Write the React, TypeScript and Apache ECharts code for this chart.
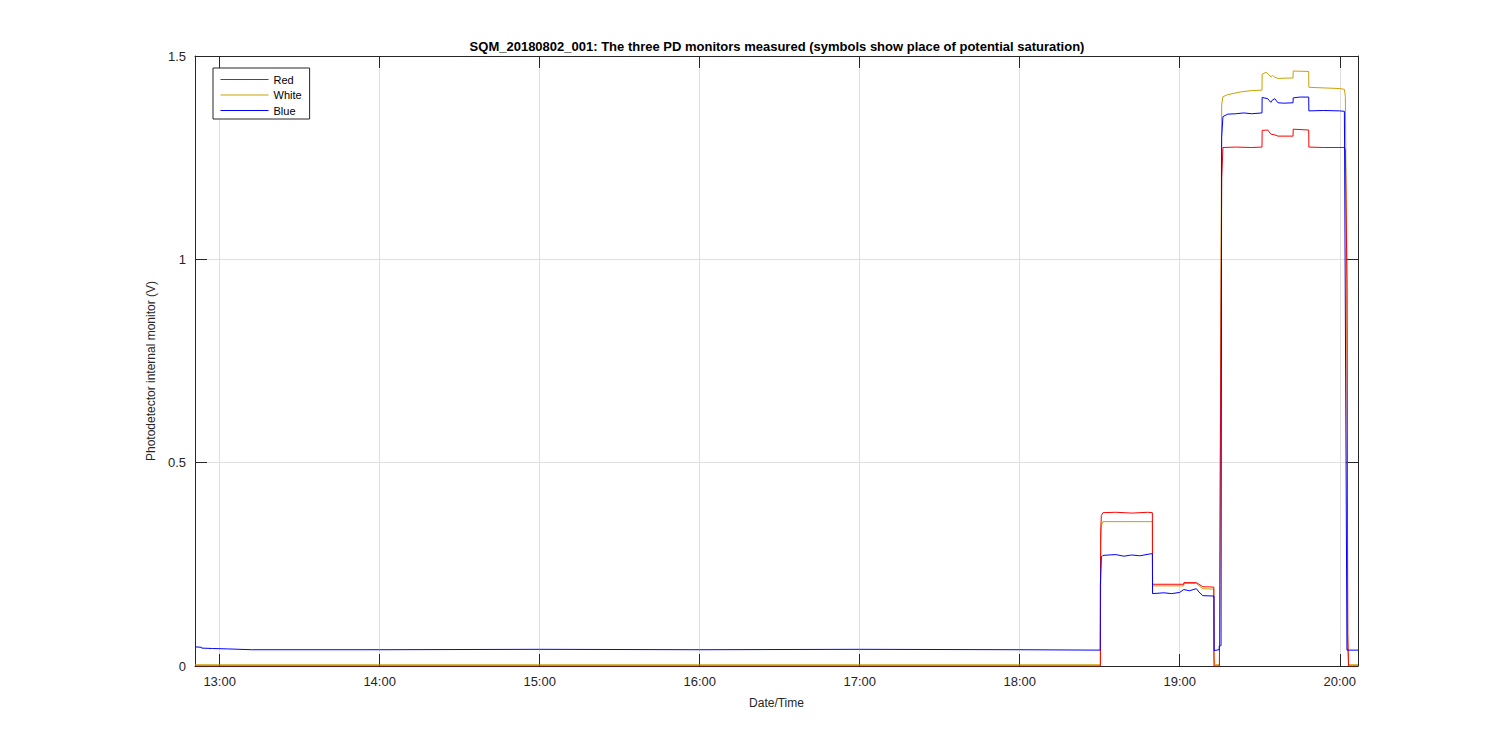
import React, { useEffect, useRef } from "react";
import * as echarts from "echarts";

// Time in decimal hours (local clock), values in volts
const redTime = [12.846, 18.504, 18.506, 18.51, 18.52, 18.6, 18.7, 18.8, 18.829, 18.83, 19.025, 19.026, 19.104, 19.144, 19.213, 19.214, 19.248, 19.25, 19.262, 19.27, 19.35, 19.45, 19.514, 19.515, 19.55, 19.569, 19.594, 19.614, 19.708, 19.709, 19.806, 19.807, 19.9, 20.029, 20.035, 20.045, 20.05, 20.055, 20.114];
const redValues = [0.0, 0.0, 0.33, 0.37, 0.377, 0.378, 0.376, 0.378, 0.377, 0.201, 0.201, 0.205, 0.205, 0.195, 0.194, 0.0, 0.0, 0.2, 1.2, 1.275, 1.276, 1.275, 1.276, 1.317, 1.318, 1.308, 1.306, 1.303, 1.303, 1.32, 1.318, 1.276, 1.275, 1.275, 1.27, 0.95, 0.08, 0.0, 0.0];

const whiteTime = [12.846, 18.504, 18.506, 18.51, 18.52, 18.829, 18.83, 19.025, 19.026, 19.104, 19.144, 19.213, 19.214, 19.22, 19.248, 19.25, 19.262, 19.27, 19.3, 19.386, 19.45, 19.514, 19.515, 19.54, 19.569, 19.58, 19.594, 19.614, 19.708, 19.709, 19.806, 19.807, 20.0, 20.029, 20.035, 20.045, 20.05, 20.055, 20.114];
const whiteValues = [0.003, 0.003, 0.3, 0.345, 0.355, 0.355, 0.197, 0.197, 0.203, 0.203, 0.19, 0.189, 0.02, 0.003, 0.003, 0.165, 1.38, 1.4, 1.405, 1.412, 1.415, 1.416, 1.455, 1.46, 1.449, 1.452, 1.448, 1.445, 1.446, 1.463, 1.462, 1.423, 1.42, 1.418, 1.4, 0.93, 0.05, 0.003, 0.003];

const blueTime = [12.846, 12.886, 12.887, 12.956, 13.05, 13.2, 14.0, 15.0, 16.0, 17.0, 18.0, 18.503, 18.504, 18.51, 18.52, 18.6, 18.65, 18.7, 18.75, 18.82, 18.829, 18.83, 18.9, 18.95, 19.0, 19.025, 19.06, 19.104, 19.12, 19.144, 19.214, 19.215, 19.246, 19.247, 19.258, 19.262, 19.27, 19.3, 19.35, 19.4, 19.45, 19.514, 19.515, 19.55, 19.569, 19.58, 19.594, 19.614, 19.65, 19.708, 19.709, 19.75, 19.806, 19.807, 19.9, 20.0, 20.029, 20.045, 20.114];
const blueValues = [0.047, 0.046, 0.044, 0.043, 0.042, 0.04, 0.04, 0.041, 0.04, 0.041, 0.04, 0.039, 0.2, 0.268, 0.272, 0.274, 0.27, 0.273, 0.271, 0.276, 0.276, 0.178, 0.18, 0.178, 0.181, 0.188, 0.185, 0.19, 0.182, 0.173, 0.172, 0.038, 0.04, 0.049, 0.05, 1.3, 1.351, 1.357, 1.358, 1.36, 1.358, 1.36, 1.398, 1.395, 1.386, 1.392, 1.395, 1.385, 1.384, 1.385, 1.397, 1.399, 1.399, 1.365, 1.366, 1.365, 1.364, 0.039, 0.039];

const yTicks = [0, 0.5, 1, 1.5];

const xMin = 12.846;
const xMax = 20.114;

const zip = (t: number[], v: number[]) => t.map((x, i) => [x, v[i]]);

export default function App() {
  const ref = useRef<HTMLDivElement>(null);
  useEffect(() => {
    if (!ref.current) return;
    const chart = echarts.init(ref.current, undefined, { renderer: "svg" });
    const axisColor = "#262626";
    const font = "'Liberation Sans', Arial, Helvetica, sans-serif";
    const fmtX = (h: number) =>
      Math.abs(h - Math.round(h)) < 1e-6 ? `${Math.round(h)}:00` : "";
    chart.setOption({
      animation: false,
      backgroundColor: "#ffffff",
      textStyle: { fontFamily: font },
      title: {
        text: "SQM_20180802_001: The three PD monitors measured (symbols show place of potential saturation)",
        left: 772,
        top: 35,
        textAlign: "center",
        textStyle: { fontSize: 13, fontWeight: "bold", color: "#000", fontFamily: font },
      },
      legend: {
        orient: "vertical",
        left: 213,
        top: 68,
        itemWidth: 48,
        itemHeight: 12,
        itemGap: 4.5,
        padding: [6, 8, 3, 7],
        borderColor: axisColor,
        borderWidth: 1,
        borderRadius: 0,
        backgroundColor: "#ffffff",
        itemStyle: { opacity: 0 },
        lineStyle: { width: 1 },
        textStyle: { fontSize: 11, color: "#000", fontFamily: font },
        data: ["Red", "White", "Blue"],
      },
      grid: { left: 195, right: 142, top: 56, bottom: 84, containLabel: false },
      xAxis: [
        {
          type: "value",
          min: xMin,
          max: xMax,
          minInterval: 1,
          maxInterval: 1,
          position: "bottom",
          name: "Date/Time",
          nameLocation: "middle",
          nameGap: 31,
          nameTextStyle: { fontSize: 12, color: axisColor },
          axisLine: { onZero: false, lineStyle: { color: axisColor, width: 1 } },
          axisTick: { inside: true, length: 12, lineStyle: { color: axisColor } },
          axisLabel: { formatter: fmtX, fontSize: 13, color: axisColor, margin: 9 },
          splitLine: { show: true, lineStyle: { color: "#dfdfdf", width: 1 } },
        },
        {
          type: "value",
          min: xMin,
          max: xMax,
          minInterval: 1,
          maxInterval: 1,
          position: "top",
          axisLine: { onZero: false, lineStyle: { color: axisColor, width: 1 } },
          axisTick: { inside: true, length: 12, lineStyle: { color: axisColor } },
          axisLabel: { show: false },
          splitLine: { show: false },
        },
      ],
      yAxis: [
        {
          type: "value",
          min: 0,
          max: 1.5,
          interval: 0.5,
          position: "left",
          name: "Photodetector internal monitor (V)",
          nameLocation: "middle",
          nameGap: 29,
          nameTextStyle: { fontSize: 12, color: axisColor, padding: [0, 20, 0, 0] },
          axisLine: { show: true, onZero: false, lineStyle: { color: axisColor, width: 1 } },
          axisTick: { show: true, inside: true, length: 12, lineStyle: { color: axisColor } },
          axisLabel: {
            fontSize: 13,
            color: axisColor,
            margin: 9,
            formatter: (v: number) => (yTicks.includes(v) ? String(v) : ""),
          },
          splitLine: { show: true, lineStyle: { color: "#dfdfdf", width: 1 } },
        },
        {
          type: "value",
          min: 0,
          max: 1.5,
          interval: 0.5,
          position: "right",
          axisLine: { show: true, onZero: false, lineStyle: { color: axisColor, width: 1 } },
          axisTick: { show: true, inside: true, length: 12, lineStyle: { color: axisColor } },
          axisLabel: { show: false },
          splitLine: { show: false },
        },
      ],
      series: [
        {
          name: "White",
          type: "line",
          data: zip(whiteTime, whiteValues),
          symbol: "none",
          color: "#c9a200",
          lineStyle: { width: 1, color: "#c9a200" },
          z: 2,
        },
        {
          name: "Red",
          type: "line",
          data: zip(redTime, redValues),
          symbol: "none",
          color: "#ff0000",
          lineStyle: { width: 1, color: "#ff0000" },
          z: 3,
        },
        {
          name: "Blue",
          type: "line",
          data: zip(blueTime, blueValues),
          symbol: "none",
          color: "#0000ff",
          lineStyle: { width: 1, color: "#0000ff" },
          z: 4,
        },
      ],
    });
    return () => chart.dispose();
  }, []);
  return (
    <div
      ref={ref}
      style={{ position: "fixed", left: 0, top: 0, width: 1500, height: 750, background: "#fff" }}
    />
  );
}
